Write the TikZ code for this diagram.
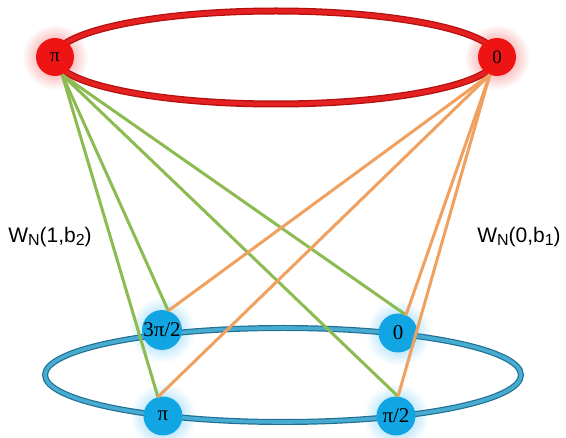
\documentclass[tikz,border=0pt]{standalone}
\usepackage{fontspec}
\setmainfont{Liberation Serif}
\newfontfamily\labelfont{Liberation Sans}
\definecolor{rednode}{RGB}{238,20,20}
\definecolor{redring}{RGB}{228,32,32}
\definecolor{redringdark}{RGB}{180,16,16}
\definecolor{redglow}{RGB}{245,120,120}
\definecolor{bluenode}{RGB}{18,165,228}
\definecolor{bluering}{RGB}{72,172,208}
\definecolor{blueringdark}{RGB}{32,112,150}
\definecolor{blueglow}{RGB}{120,205,245}
\definecolor{greenline}{RGB}{140,187,82}
\definecolor{orangeline}{RGB}{240,160,95}
\newcommand{\subsc}[1]{\raisebox{-3.5pt}{\fontsize{16}{16}\selectfont #1}}
\tikzset{
  rednd/.style={circle, fill=rednode, minimum size=38pt, inner sep=0pt, font=\fontsize{19}{19}\selectfont},
  bluend/.style={circle, fill=bluenode, minimum size=39pt, inner sep=0pt, font=\fontsize{21}{21}\selectfont},
  gline/.style={draw=greenline, line width=3pt},
  oline/.style={draw=orangeline, line width=3pt},
  wlabel/.style={font=\labelfont\fontsize{21}{21}\selectfont, inner sep=0pt}
}
\begin{document}
\begin{tikzpicture}[x=1pt,y=-1pt]
\useasboundingbox (0,0) rectangle (566,438);
% glows
\foreach \p in {(55,57),(497,57)}
  \shade[inner color=redglow, outer color=white] \p circle[radius=33pt];
\foreach \p in {(162,330),(398,333),(163,416),(396,416)}
  \shade[inner color=blueglow, outer color=white] \p circle[radius=33pt];
% rings
\draw[redringdark, line width=7pt] (276,57.5) ellipse[x radius=221pt, y radius=46.5pt];
\draw[redring, line width=4.4pt] (276,57.5) ellipse[x radius=221pt, y radius=46.5pt];
\draw[blueringdark, line width=6pt] (283,375) ellipse[x radius=238pt, y radius=47pt];
\draw[bluering, line width=3.6pt] (283,375) ellipse[x radius=238pt, y radius=47pt];
% nodes
\node[rednd] (rpi) at (55,57) {π};
\node[rednd] (rz) at (497,57) {0};
\node[bluend] (b3) at (162,330) {3π/2};
\node[bluend] (bz) at (398,333) {0};
\node[bluend] (bpi) at (163,416) {π};
\node[bluend] (bh) at (396,416) {π/2};
% connectors
\draw[gline] (rpi.-68) -- (b3.72);
\draw[gline] (rpi.-68) -- (bpi.105);
\draw[gline] (rpi.-68) -- (bz.66);
\draw[gline] (rpi.-68) -- (bh.84);
\draw[oline] (rz.-112) -- (b3.72);
\draw[oline] (rz.-112) -- (bpi.105);
\draw[oline] (rz.-112) -- (bz.66);
\draw[oline] (rz.-112) -- (bh.84);
% labels
\node[wlabel] (lw1) at (50,237) {W\subsc{N}(1,b\subsc{2})};
\node[wlabel] (lw0) at (519,237) {W\subsc{N}(0,b\subsc{1})};
\end{tikzpicture}
\end{document}
